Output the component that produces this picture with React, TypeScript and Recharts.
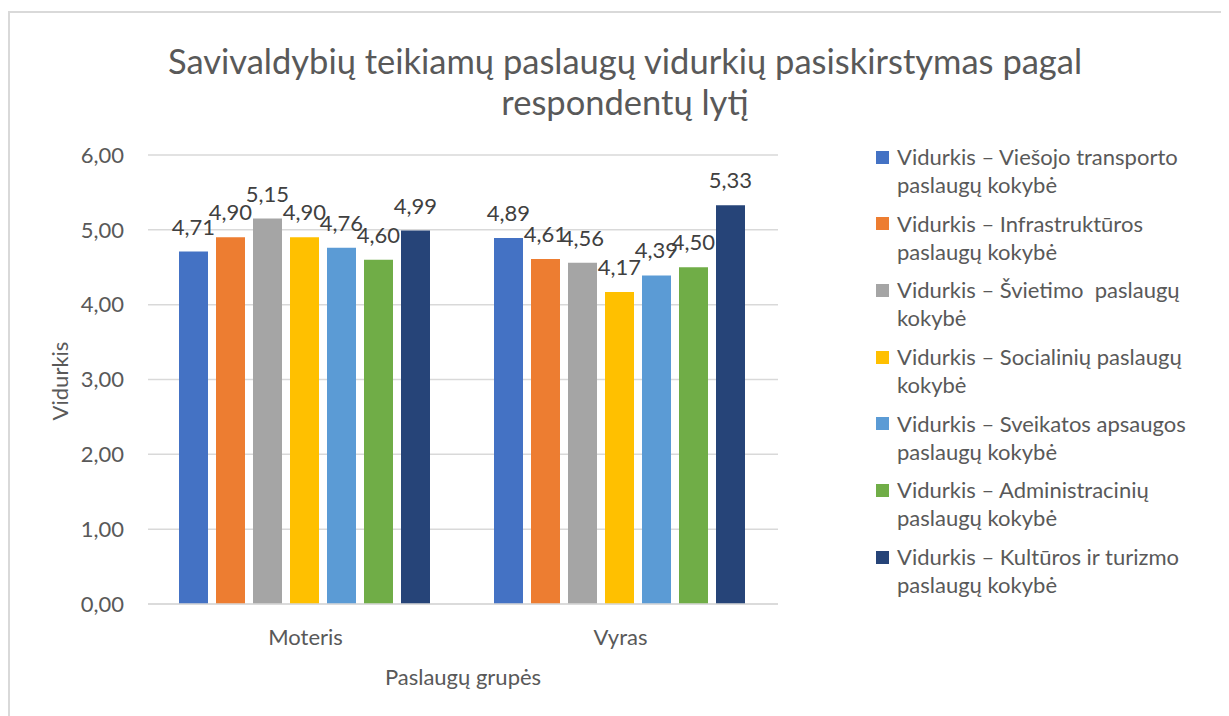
import React from 'react';
import { BarChart, Bar, XAxis, YAxis, CartesianGrid, Legend, LabelList, Label } from 'recharts';

const categories = ['Moteris', 'Vyras'];
const viesojoTransporto = [4.71, 4.89];
const infrastrukturos = [4.9, 4.61];
const svietimo = [5.15, 4.56];
const socialiniu = [4.9, 4.17];
const sveikatosApsaugos = [4.76, 4.39];
const administraciniu = [4.6, 4.5];
const kulturosTurizmo = [4.99, 5.33];

const seriesNames = [
  'Vidurkis – Viešojo transporto paslaugų kokybė',
  'Vidurkis – Infrastruktūros paslaugų kokybė',
  'Vidurkis – Švietimo  paslaugų kokybė',
  'Vidurkis – Socialinių paslaugų kokybė',
  'Vidurkis – Sveikatos apsaugos paslaugų kokybė',
  'Vidurkis – Administracinių paslaugų kokybė',
  'Vidurkis – Kultūros ir turizmo paslaugų kokybė',
];
const legendLines = [
  ['Vidurkis – Viešojo transporto', 'paslaugų kokybė'],
  ['Vidurkis – Infrastruktūros', 'paslaugų kokybė'],
  ['Vidurkis – Švietimo  paslaugų', 'kokybė'],
  ['Vidurkis – Socialinių paslaugų', 'kokybė'],
  ['Vidurkis – Sveikatos apsaugos', 'paslaugų kokybė'],
  ['Vidurkis – Administracinių', 'paslaugų kokybė'],
  ['Vidurkis – Kultūros ir turizmo', 'paslaugų kokybė'],
];
const seriesColors = ['#4472C4', '#ED7D31', '#A5A5A5', '#FFC000', '#5B9BD5', '#70AD47', '#264478'];
const yTicks = [0, 1, 2, 3, 4, 5, 6];
const titleLines = ['Savivaldybių teikiamų paslaugų vidurkių pasiskirstymas pagal', 'respondentų lytį'];
const xAxisTitle = 'Paslaugų grupės';
const yAxisTitle = 'Vidurkis';

const seriesValues = [
  viesojoTransporto,
  infrastrukturos,
  svietimo,
  socialiniu,
  sveikatosApsaugos,
  administraciniu,
  kulturosTurizmo,
];
const seriesKeys = seriesValues.map((_, j) => 's' + j);
const data = categories.map((c, i) => {
  const row: any = { category: c };
  seriesValues.forEach((vals, j) => {
    row[seriesKeys[j]] = vals[i];
  });
  return row;
});

const fmt = (v: any) => Number(v).toFixed(2).replace('.', ',');

const FONT = 'Lato, "Open Sans", sans-serif';
const TEXT = '#595959';
const FS = 22;

const renderLegend = () => (
  <div style={{ fontFamily: FONT, color: TEXT, fontSize: FS }}>
    {legendLines.map((lines, j) => (
      <div key={j} style={{ display: 'flex', alignItems: 'flex-start', marginBottom: 10.7 }}>
        <div
          style={{
            width: 13,
            height: 13,
            background: seriesColors[j],
            marginTop: 7.5,
            flex: '0 0 auto',
          }}
        />
        <div style={{ marginLeft: 8, lineHeight: '28px', whiteSpace: 'pre' }}>
          {lines.map((l, k) => (
            <div key={k}>{l}</div>
          ))}
        </div>
      </div>
    ))}
  </div>
);

export default function App() {
  return (
    <div style={{ position: 'relative', width: 1221, height: 708, fontFamily: FONT }}>
      <div
        style={{
          position: 'absolute',
          left: 0,
          top: 3,
          width: 1221,
          height: 705,
          borderTop: '2px solid #D9D9D9',
          borderLeft: '2px solid #D9D9D9',
          boxSizing: 'border-box',
        }}
      />
      <div
        style={{
          position: 'absolute',
          left: 17,
          top: 32,
          width: 1200,
          textAlign: 'center',
          fontSize: 34.5,
          lineHeight: '41px',
          color: TEXT,
        }}
      >
        {titleLines.map((t, i) => (
          <div key={i}>{t}</div>
        ))}
      </div>
      <div style={{ position: 'absolute', left: 0, top: 0 }}>
        <BarChart
          width={1221}
          height={708}
          data={data}
          margin={{ top: 147, right: 451, left: 0, bottom: 0 }}
          barGap={8}
          barCategoryGap={31}
        >
          <CartesianGrid vertical={false} stroke="#D9D9D9" strokeWidth={1.5} />
          <XAxis
            dataKey="category"
            height={112}
            tickLine={false}
            axisLine={{ stroke: '#D9D9D9', strokeWidth: 1.5 }}
            tickSize={0}
            tickMargin={25}
            tick={{ fill: TEXT, fontSize: FS }}
          >
            <Label
              content={(props: any) => {
                const vb = props.viewBox;
                return (
                  <text
                    x={vb.x + vb.width / 2}
                    y={vb.y + 72}
                    textAnchor="middle"
                    dominantBaseline="central"
                    fill={TEXT}
                    fontSize={FS}
                  >
                    {xAxisTitle}
                  </text>
                );
              }}
            />
          </XAxis>
          <YAxis
            width={140}
            domain={[0, 6]}
            ticks={yTicks}
            interval={0}
            tickFormatter={fmt}
            axisLine={false}
            tickLine={false}
            tickSize={0}
            tickMargin={24}
            tick={{ fill: TEXT, fontSize: FS }}
          >
            <Label
              content={(props: any) => {
                const vb = props.viewBox;
                const cx = 51;
                const cy = vb.y + vb.height / 2 + 1.5;
                return (
                  <text
                    x={cx}
                    y={cy}
                    textAnchor="middle"
                    dominantBaseline="central"
                    fill={TEXT}
                    fontSize={FS}
                    transform={`rotate(-90 ${cx} ${cy})`}
                  >
                    {yAxisTitle}
                  </text>
                );
              }}
            />
          </YAxis>
          <Legend
            layout="horizontal"
            verticalAlign="middle"
            align="center"
            content={renderLegend}
            wrapperStyle={{ position: 'absolute', left: 868, top: 135, width: 345 }}
          />
          {seriesKeys.map((k, j) => (
            <Bar key={k} dataKey={k} name={seriesNames[j]} fill={seriesColors[j]} isAnimationActive={false}>
              <LabelList
                dataKey={k}
                position="top"
                offset={17}
                formatter={fmt}
                fill="#404040"
                fontSize={FS}
              />
            </Bar>
          ))}
        </BarChart>
      </div>
    </div>
  );
}
